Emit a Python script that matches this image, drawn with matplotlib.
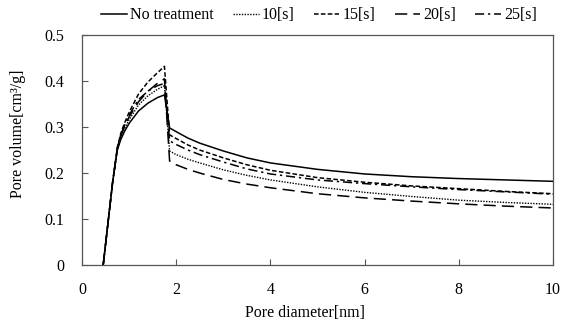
import matplotlib
matplotlib.use("Agg")
import matplotlib.pyplot as plt

plt.rcParams['font.family'] = ['Liberation Serif', 'DejaVu Serif']

# Pore diameter [nm]
diameter = [0.45, 0.55, 0.65, 0.75, 0.82, 0.9, 1.0, 1.2, 1.4, 1.6, 1.75, 1.86,
            2.0, 2.25, 2.5, 3.0, 3.5, 4, 5, 6, 7, 8, 9, 10]

no_treatment = [0.0, 0.09, 0.18, 0.250, 0.272, 0.290, 0.308, 0.335, 0.352, 0.364, 0.370, 0.298,
                0.290, 0.276, 0.265, 0.248, 0.233, 0.222, 0.208, 0.198, 0.192, 0.188, 0.185, 0.182]
s10 = [0.0, 0.09, 0.18, 0.252, 0.277, 0.296, 0.316, 0.348, 0.368, 0.382, 0.390, 0.248,
       0.240, 0.230, 0.222, 0.207, 0.195, 0.185, 0.170, 0.158, 0.149, 0.141, 0.136, 0.132]
s15 = [0.0, 0.09, 0.18, 0.256, 0.285, 0.308, 0.332, 0.372, 0.398, 0.418, 0.432, 0.283,
       0.275, 0.261, 0.250, 0.233, 0.218, 0.206, 0.190, 0.180, 0.172, 0.166, 0.160, 0.155]
s20 = [0.0, 0.09, 0.18, 0.253, 0.280, 0.300, 0.322, 0.355, 0.378, 0.395, 0.405, 0.226,
       0.218, 0.208, 0.200, 0.186, 0.176, 0.168, 0.155, 0.146, 0.139, 0.133, 0.128, 0.124]
s25 = [0.0, 0.09, 0.18, 0.254, 0.282, 0.303, 0.326, 0.360, 0.378, 0.390, 0.395, 0.270,
       0.262, 0.250, 0.240, 0.224, 0.209, 0.198, 0.185, 0.177, 0.170, 0.164, 0.159, 0.154]

labels = ["No treatment", "10[s]", "15[s]", "20[s]", "25[s]"]
x_ticks = [0, 2, 4, 6, 8, 10]
y_ticks = [0, 0.1, 0.2, 0.3, 0.4, 0.5]
y_tick_labels = ["0", "0.1", "0.2", "0.3", "0.4", "0.5"]

fig = plt.figure(figsize=(5.64, 3.22), dpi=100)
ax = fig.add_axes([0.1454, 0.177, 0.9805 - 0.1454, 0.891 - 0.177])

series = [no_treatment, s10, s15, s20, s25]
styles = [
    dict(linestyle='-', lw=1.1),
    dict(linestyle=(0, (1, 1)), lw=1.0),
    dict(linestyle=(0, (3, 1.5)), lw=1.1),
    dict(linestyle=(0, (8, 4)), lw=1.1),
    dict(linestyle=(0, (6, 2.5, 1.5, 2.5)), lw=1.1),
]
for ys, lab, st in zip(series, labels, styles):
    ax.plot(diameter, ys, color='black', label=lab, **st)

ax.set_xlim(0, 10)
ax.set_ylim(0, 0.5)
ax.set_xticks(x_ticks)
ax.set_xticklabels([str(t) for t in x_ticks])
ax.set_yticks(y_ticks)
ax.set_yticklabels(y_tick_labels)
ax.tick_params(direction='in', length=4, labelsize=11.5, color='#555555')
ax.tick_params(axis='x', pad=12)
ax.tick_params(axis='y', pad=13)
for sp in ax.spines.values():
    sp.set_color('#555555')
    sp.set_linewidth(0.9)

ax.set_xlabel("Pore diameter[nm]", fontsize=11.5)
ax.set_ylabel("Pore volume[cm\u00b3/g]", fontsize=11.5)
ax.xaxis.set_label_coords(0.473, -0.176)
ax.yaxis.set_label_coords(-0.119, 0.57)

fig.legend(loc='center', bbox_to_anchor=(0.566, 0.953), ncol=5, frameon=False,
           fontsize=11.5, handlelength=1.6, handletextpad=0.2, columnspacing=1.2)

fig.savefig("out.png", dpi=100)
